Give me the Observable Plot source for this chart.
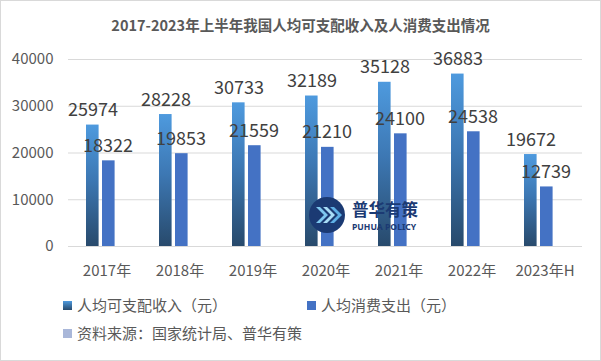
<!DOCTYPE html>
<html>
<head>
<meta charset="utf-8">
<script src="https://cdn.jsdelivr.net/npm/d3@7"></script>
<script src="https://cdn.jsdelivr.net/npm/@observablehq/plot@0.6"></script>
<style>
  html, body { margin: 0; padding: 0; background: #fff; }
  #wrap { position: relative; width: 601px; height: 361px; overflow: hidden; font-family: "Noto Sans CJK SC", "Noto Sans", sans-serif; color: #595959; }
  #border { position: absolute; left: 0; top: 0; width: 601px; height: 361px; box-sizing: border-box; border: 1px solid #d9d9d9; pointer-events: none; }
  #title { position: absolute; left: 0; width: 601px; top: 14px; text-align: center; font-size: 14.5px; font-weight: bold; color: #595959; line-height: 22px; }
  #chart { position: absolute; left: 0; top: 0; }
  .leg { position: absolute; font-size: 15px; line-height: 20px; color: #595959; white-space: nowrap; }
  .sw { display: inline-block; width: 9px; height: 9px; margin-right: 5px; vertical-align: 1px; }
  #logo { position: absolute; left: 308px; top: 196px; }
</style>
</head>
<body>
<div id="wrap">
  <div id="chart"></div>
  <div id="title"></div>
  <div id="legend"></div>
  <div id="border"></div>
</div>
<script>
const titleText = "2017-2023年上半年我国人均可支配收入及人消费支出情况";
const years = ["2017年", "2018年", "2019年", "2020年", "2021年", "2022年", "2023年H"];
const income = [25974, 28228, 30733, 32189, 35128, 36883, 19672];
const expense = [18322, 19853, 21559, 21210, 24100, 24538, 12739];
const seriesNames = ["人均可支配收入（元）", "人均消费支出（元）"];
const sourceNote = "资料来源：国家统计局、普华有策";
const yTicks = [0, 10000, 20000, 30000, 40000];

const rows = years.map((year, i) => ({year, income: income[i], expense: expense[i]}));

document.getElementById("title").textContent = titleText;

const plot = Plot.plot({
  width: 601,
  height: 290,
  marginTop: 59,
  marginBottom: 44,
  marginLeft: 68,
  marginRight: 19,
  style: {fontFamily: "'Noto Sans CJK SC', 'Noto Sans', sans-serif", fontSize: "15px", color: "#595959", background: "transparent"},
  x: {domain: years, padding: 0, label: null, tickSize: 0, tickPadding: 19},
  y: {domain: [0, 40000], ticks: yTicks, label: null, tickSize: 0, tickPadding: 15, tickFormat: d => String(d)},
  marks: [
    Plot.ruleY(yTicks, {stroke: "#d9d9d9", strokeWidth: 1}),
    Plot.barY(rows, {x: "year", y: "income", fill: "url(#incGrad)", insetLeft: 16, insetRight: 44.4}),
    Plot.barY(rows, {x: "year", y: "expense", fill: "#4472c4", insetLeft: 32, insetRight: 28.4}),
    Plot.text(rows, {x: "year", y: "income", text: d => String(d.income), dx: -14, dy: -9, lineAnchor: "bottom", fontSize: 18, fill: "#404040"}),
    Plot.text(rows, {x: "year", y: "expense", text: d => String(d.expense), dx: 1, dy: -9, lineAnchor: "bottom", fontSize: 18, fill: "#404040"})
  ]
});

const ns = "http://www.w3.org/2000/svg";
const defs = document.createElementNS(ns, "defs");
const grad = document.createElementNS(ns, "linearGradient");
grad.setAttribute("id", "incGrad");
grad.setAttribute("x1", "0"); grad.setAttribute("y1", "0");
grad.setAttribute("x2", "0"); grad.setAttribute("y2", "1");
[["0%", "#4e9ade"], ["45%", "#3d78b4"], ["100%", "#284a6c"]].forEach(([o, c]) => {
  const s = document.createElementNS(ns, "stop");
  s.setAttribute("offset", o); s.setAttribute("stop-color", c);
  grad.appendChild(s);
});
defs.appendChild(grad);
plot.insertBefore(defs, plot.firstChild);
document.getElementById("chart").appendChild(plot);

// watermark logo
const logo = document.createElement("div");
logo.id = "logo";
logo.innerHTML = `<svg width="120" height="40" xmlns="http://www.w3.org/2000/svg">
  <circle cx="19" cy="19" r="18" fill="#1b3a73"/>
  <path d="M8 11 L16 19 L8 27 L12 27 L20 19 L12 11 Z" fill="#7fc8f0"/>
  <path d="M15 11 L23 19 L15 27 L19 27 L27 19 L19 11 Z" fill="#a8dcf6"/>
  <path d="M22 11 L30 19 L22 27 L26 27 L34 19 L26 11 Z" fill="#5fb0e6"/>
  <text x="44" y="20" font-family="'Noto Sans CJK SC'" font-weight="bold" font-size="16.5" fill="#1b3a73">普华有策</text>
  <text x="44" y="34" font-family="'Noto Sans'" font-weight="bold" font-size="8.6" fill="#1b3a73">PUHUA POLICY</text>
</svg>`;
document.getElementById("wrap").appendChild(logo);

// legend
const legend = document.getElementById("legend");
const items = [
  {label: seriesNames[0], color: "linear-gradient(#4e9ade, #284a6c)", left: 63, top: 295},
  {label: seriesNames[1], color: "#4472c4", left: 307, top: 295},
  {label: sourceNote, color: "#a9b7d9", left: 63, top: 323}
];
items.forEach(it => {
  const d = document.createElement("div");
  d.className = "leg";
  d.style.left = it.left + "px";
  d.style.top = it.top + "px";
  const sw = document.createElement("span");
  sw.className = "sw";
  sw.style.background = it.color;
  d.appendChild(sw);
  d.appendChild(document.createTextNode(it.label));
  legend.appendChild(d);
});
</script>
</body>
</html>
